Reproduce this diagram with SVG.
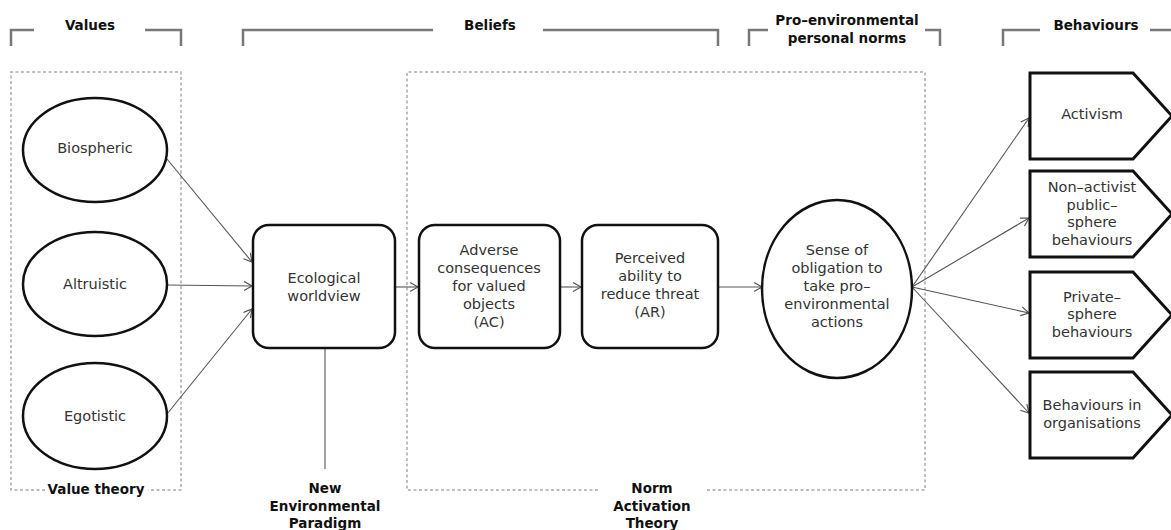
<svg xmlns="http://www.w3.org/2000/svg" width="1171" height="530" viewBox="0 0 1171 530">
<defs>
<marker id="arr" markerWidth="12" markerHeight="12" refX="9" refY="5" orient="auto" markerUnits="userSpaceOnUse">
<path d="M1,0.5 L9,5 L1,9.5" fill="none" stroke="#555" stroke-width="1.2"/>
</marker>
<style>
.t{font-family:"DejaVu Sans",sans-serif;font-size:14.5px;fill:#333;text-anchor:middle}
.h{font-family:"DejaVu Sans",sans-serif;font-size:13.5px;font-weight:bold;fill:#111;text-anchor:middle}
.br{fill:none;stroke:#777;stroke-width:2.5}
.ds{fill:none;stroke:#aaa;stroke-width:1.5;stroke-dasharray:3 2.5}
.nd{fill:#fff;stroke:#111;stroke-width:2.5}
.pg{fill:#fff;stroke:#111;stroke-width:3}
.cn{fill:none;stroke:#555;stroke-width:1.1}
</style>
</defs>
<rect width="1171" height="530" fill="#fff"/>

<g id="headers">
<path class="br" d="M11,46 V30 H34"/>
<path class="br" d="M145,30 H181 V46"/>
<text class="h" x="90" y="30">Values</text>
<path class="br" d="M243,46 V30 H433"/>
<path class="br" d="M543,30 H718 V46"/>
<text class="h" x="490" y="30">Beliefs</text>
<path class="br" d="M749,46 V30 H768"/>
<path class="br" d="M925,30 H940 V46"/>
<text class="h" x="847" y="25">Pro–environmental</text>
<text class="h" x="847" y="43">personal norms</text>
<path class="br" d="M1003,46 V30 H1040"/>
<path class="br" d="M1150,30 H1171"/>
<text class="h" x="1096" y="30">Behaviours</text>
</g>

<g id="value-theory">
<path class="ds" d="M45,490 H11 V72 H181 V490 H148"/>
<text class="h" x="96" y="494">Value theory</text>
</g>

<g id="norm-activation-theory">
<path class="ds" d="M598,490 H407 V72 H925 V490 H706"/>
<text class="h" x="652" y="493">Norm</text>
<text class="h" x="652" y="511">Activation</text>
<text class="h" x="652" y="528">Theory</text>
</g>

<g id="nep">
<text class="h" x="325" y="493">New</text>
<text class="h" x="325" y="511">Environmental</text>
<text class="h" x="325" y="528">Paradigm</text>
</g>

<g id="connectors">
<line class="cn" x1="325" y1="330" x2="325" y2="469" stroke="#999"/>
<line class="cn" x1="167" y1="159" x2="252" y2="262" marker-end="url(#arr)"/>
<line class="cn" x1="167" y1="285" x2="252" y2="286" marker-end="url(#arr)"/>
<line class="cn" x1="167" y1="414" x2="252" y2="309" marker-end="url(#arr)"/>
<line class="cn" x1="395" y1="287" x2="418" y2="287" marker-end="url(#arr)"/>
<line class="cn" x1="560" y1="287" x2="581" y2="287" marker-end="url(#arr)"/>
<line class="cn" x1="718" y1="287" x2="762" y2="287" marker-end="url(#arr)"/>
<line class="cn" x1="912" y1="287" x2="1029" y2="118" marker-end="url(#arr)"/>
<line class="cn" x1="912" y1="287" x2="1029" y2="218" marker-end="url(#arr)"/>
<line class="cn" x1="912" y1="287" x2="1029" y2="313" marker-end="url(#arr)"/>
<line class="cn" x1="912" y1="287" x2="1029" y2="413" marker-end="url(#arr)"/>
</g>

<g id="biospheric">
<ellipse class="nd" cx="95" cy="150" rx="72" ry="52"/>
<text class="t" x="95" y="153">Biospheric</text>
</g>
<g id="altruistic">
<ellipse class="nd" cx="95" cy="284" rx="72" ry="52"/>
<text class="t" x="95" y="289">Altruistic</text>
</g>
<g id="egotistic">
<ellipse class="nd" cx="95" cy="416" rx="72" ry="53"/>
<text class="t" x="95" y="421">Egotistic</text>
</g>

<g id="ecological-worldview">
<rect class="nd" x="253" y="225" width="142" height="123" rx="16"/>
<text class="t" x="324" y="283">Ecological</text>
<text class="t" x="324" y="301">worldview</text>
</g>

<g id="adverse-consequences">
<rect class="nd" x="419" y="225" width="141" height="123" rx="16"/>
<text class="t" x="489" y="255">Adverse</text>
<text class="t" x="489" y="273">consequences</text>
<text class="t" x="489" y="291">for valued</text>
<text class="t" x="489" y="309">objects</text>
<text class="t" x="489" y="327">(AC)</text>
</g>

<g id="perceived-ability">
<rect class="nd" x="582" y="225" width="136" height="123" rx="16"/>
<text class="t" x="650" y="263">Perceived</text>
<text class="t" x="650" y="281">ability to</text>
<text class="t" x="650" y="299">reduce threat</text>
<text class="t" x="650" y="317">(AR)</text>
</g>

<g id="sense-of-obligation">
<ellipse class="nd" cx="837" cy="289" rx="75" ry="89"/>
<text class="t" x="837" y="255">Sense of</text>
<text class="t" x="837" y="273">obligation to</text>
<text class="t" x="837" y="291">take pro–</text>
<text class="t" x="837" y="309">environmental</text>
<text class="t" x="837" y="327">actions</text>
</g>

<g id="activism">
<path class="pg" d="M1030,73 H1133 L1172,116 L1133,159 H1030 Z"/>
<text class="t" x="1092" y="119">Activism</text>
</g>
<g id="non-activist">
<path class="pg" d="M1030,171 H1133 L1172,214 L1133,257 H1030 Z"/>
<text class="t" x="1092" y="192">Non–activist</text>
<text class="t" x="1092" y="210">public–</text>
<text class="t" x="1092" y="227">sphere</text>
<text class="t" x="1092" y="245">behaviours</text>
</g>
<g id="private-sphere">
<path class="pg" d="M1030,272 H1133 L1172,315 L1133,358 H1030 Z"/>
<text class="t" x="1092" y="302">Private–</text>
<text class="t" x="1092" y="319">sphere</text>
<text class="t" x="1092" y="337">behaviours</text>
</g>
<g id="organisations">
<path class="pg" d="M1030,372 H1133 L1172,415 L1133,458 H1030 Z"/>
<text class="t" x="1092" y="410">Behaviours in</text>
<text class="t" x="1092" y="428">organisations</text>
</g>
</svg>
